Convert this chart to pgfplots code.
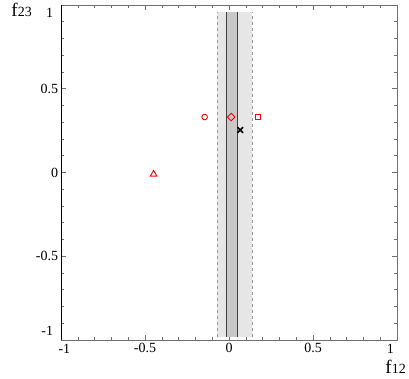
\documentclass[border=0pt]{standalone}
\usepackage{fontspec}
\setmainfont{Liberation Serif}
\usepackage{pgfplots}
\pgfplotsset{compat=1.18}
\definecolor{bandout}{HTML}{E6E6E6}
\definecolor{bandin}{HTML}{C8C8C8}
\definecolor{frame}{HTML}{707070}

\begin{document}
\fontsize{14}{16}\selectfont
\begin{tikzpicture}
\path[use as bounding box] (-61pt,-39pt) rectangle (348pt,340pt);
\begin{axis}[
  at={(0pt,0pt)}, anchor=south west,
  scale only axis,
  width=336pt, height=335pt,
  xmin=-1, xmax=1, ymin=-1, ymax=1,
  xtick={-1,-0.5,0,0.5,1},
  ytick={-1,-0.5,0,0.5,1},
  xticklabels={,-0.5,0,0.5,},
  yticklabels={,-0.5,0,0.5,},
  minor tick num=4,
  tick align=inside,
  major tick length=5pt,
  minor tick length=3pt,
  tick style={frame, line width=0.5pt},
  axis line style={frame, line width=0.7pt},
  xticklabel style={yshift=2pt},
  yticklabel style={xshift=2pt},
  /pgf/number format/assume math mode=true,
  ticklabel style={font=\fontsize{14}{16}\selectfont},
  clip=false,
]
% outer band
\addplot[draw=none, fill=bandout] coordinates {(-0.07,-0.98) (0.136,-0.98) (0.136,0.96) (-0.07,0.96)} -- cycle;
% inner band
\addplot[draw=none, fill=bandin] coordinates {(-0.017,-0.98) (0.049,-0.98) (0.049,0.96) (-0.017,0.96)} -- cycle;
\addplot[gray!80, dashed, line width=0.7pt] coordinates {(-0.07,-0.98) (-0.07,0.96)};
\addplot[gray!80, dashed, line width=0.7pt] coordinates {(0.136,-0.98) (0.136,0.96)};
\addplot[black!75, line width=0.8pt] coordinates {(-0.017,-0.98) (-0.017,0.96)};
\addplot[black!75, line width=0.8pt] coordinates {(0.049,-0.98) (0.049,0.96)};
% points
\addplot[only marks, red, mark=o, mark size=2.8pt, line width=0.9pt] coordinates {(-0.145,0.331)};
\addplot[only marks, red, mark=square, mark size=2.7pt, mark options={rotate=45}, line width=0.9pt] coordinates {(0.013,0.331)};
\addplot[only marks, red, mark=square, mark size=2.4pt, line width=0.9pt] coordinates {(0.174,0.331)};
\addplot[only marks, red, mark=triangle, mark size=3.8pt, line width=0.9pt] coordinates {(-0.449,-0.01)};
\addplot[only marks, black, mark=x, mark size=4pt, line width=1.6pt] coordinates {(0.067,0.254)};
\draw[black, line width=0.7pt] (rel axis cs:0,1) -- (rel axis cs:0,0);
% end tick labels, held inside the frame
\node[anchor=east, inner sep=1pt] at (axis cs:-1.04,-0.945) {-1};
\node[anchor=east, inner sep=1pt] at (axis cs:-1.04,0.95) {1};
\node[anchor=north, inner sep=1pt] at (axis cs:-0.98,-1.02) {-1};
\node[anchor=north, inner sep=1pt] at (axis cs:0.96,-1.02) {1};
\end{axis}
\node[anchor=base east, inner sep=0pt, font=\fontsize{19}{21}\selectfont] at (-29pt,323pt) {f\fontsize{14}{16}\selectfont 23};
\node[anchor=base east, inner sep=0pt, font=\fontsize{19}{21}\selectfont] at (345pt,-34pt) {f\fontsize{14}{16}\selectfont 12};
\end{tikzpicture}
\end{document}
